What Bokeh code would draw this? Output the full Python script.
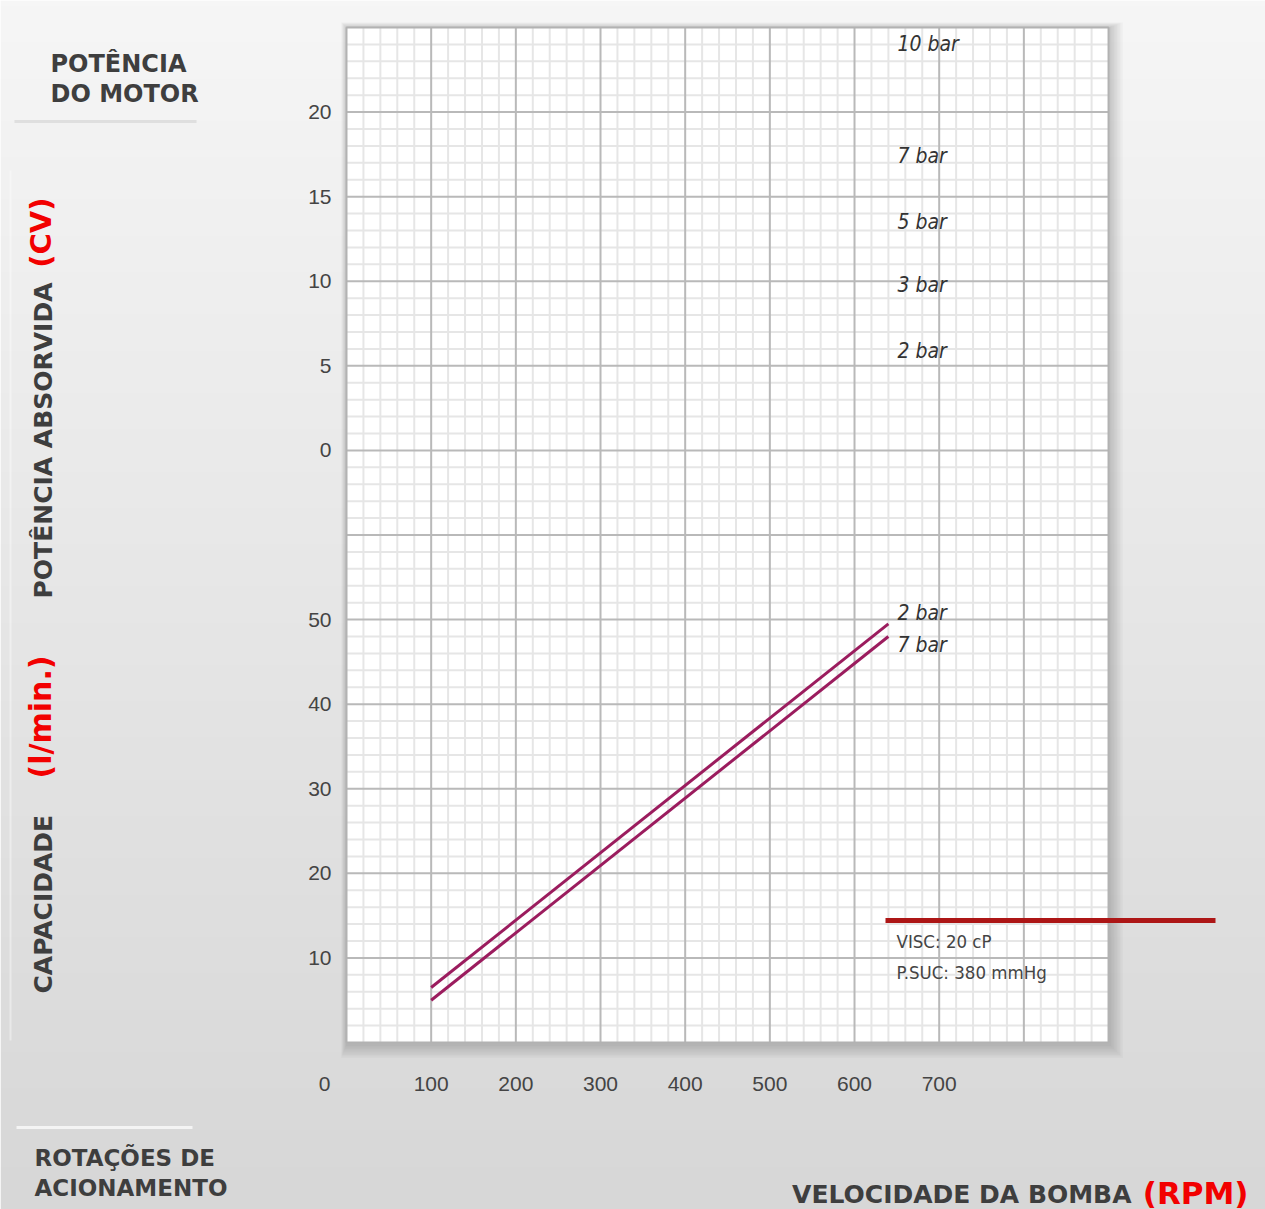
import numpy as np
from bokeh.plotting import figure
from bokeh.models import Range1d
from bokeh.core.properties import value
from bokeh.embed import file_html
from bokeh.resources import INLINE

# ---------------- data ----------------
rpm_ticks = [100, 200, 300, 400, 500, 600, 700]
capacity_ticks = [10, 20, 30, 40, 50]
power_ticks = [0, 5, 10, 15, 20]
pump_speed = [100, 640]
capacity_2bar = [6.5, 49.5]
capacity_7bar = [5.0, 48.0]
power_labels = ["10 bar", "7 bar", "5 bar", "3 bar", "2 bar"]
power_label_cv = [24.0, 17.4, 13.5, 9.8, 5.9]
capacity_labels = ["2 bar", "7 bar"]
notes = ["VISC: 20 cP", "P.SUC: 380 mmHg"]

# ---------------- layout helpers ----------------
W, H = 1265, 1209
PX_PER_RPM = 0.8467
PX_PER_CAP = 8.458
FRAME_L, FRAME_B = 346, 1042


def xd(px):
    return (px - FRAME_L) / PX_PER_RPM


def yd(py):
    return (FRAME_B - py) / PX_PER_CAP


def pw(v):
    # power (CV) drawn on the upper part of the shared grid
    return 70 + 2 * v


X_MAX, Y_MAX = 900, 120

p = figure(width=W, height=H, output_backend="svg", toolbar_location=None,
           x_range=Range1d(xd(0), xd(W)), y_range=Range1d(yd(H), yd(0)),
           x_axis_type=None, y_axis_type=None, min_border=0)
p.grid.visible = False
p.outline_line_color = None

# background gradient
n = 200
t = np.linspace(0, 1, n)
top_c = np.array([246, 246, 246])
bot_c = np.array([215, 215, 215])
img = np.empty((n, 1), dtype=np.uint32)
view = img.view(dtype=np.uint8).reshape((n, 1, 4))
for i in range(n):
    c = bot_c + (top_c - bot_c) * t[i]
    view[i, 0, 0:3] = c.astype(np.uint8)
    view[i, 0, 3] = 255
x0r, x1r = xd(0), xd(W)
y0r, y1r = yd(H), yd(0)
p.image_rgba(image=[img], x=x0r, y=y0r, dw=x1r - x0r, dh=y1r - y0r)

# decorative separators on the left
p.segment(x0=[xd(14)], y0=[yd(121)], x1=[xd(196)], y1=[yd(121)],
          line_color="#d2d2d2", line_width=3, line_alpha=0.6)
p.segment(x0=[xd(16)], y0=[yd(1127)], x1=[xd(192)], y1=[yd(1127)],
          line_color="#ffffff", line_width=3, line_alpha=0.7)
p.segment(x0=[xd(10)], y0=[yd(170)], x1=[xd(10)], y1=[yd(1040)],
          line_color="#ffffff", line_width=2, line_alpha=0.4)

# frame shadow
for g in range(1, 10):
    p.quad(left=[-g * 0.6 / PX_PER_RPM], right=[X_MAX + (g * 1.5 + 1) / PX_PER_RPM],
           bottom=[-(g * 1.5 + 2) / PX_PER_CAP], top=[Y_MAX + g * 0.6 / PX_PER_CAP],
           fill_color="black", fill_alpha=0.018, line_color=None)

# plot paper
p.quad(left=[0], right=[X_MAX], bottom=[0], top=[Y_MAX],
       fill_color="white", line_color=None)

minor_x = [v for v in range(20, X_MAX, 20) if v % 100]
minor_y = [v for v in range(2, Y_MAX, 2) if v % 10]
major_x = list(range(100, X_MAX, 100))
major_y = list(range(10, Y_MAX, 10))
p.segment(x0=minor_x, y0=[0] * len(minor_x), x1=minor_x, y1=[Y_MAX] * len(minor_x),
          line_color="#e6e6e6", line_width=2)
p.segment(x0=[0] * len(minor_y), y0=minor_y, x1=[X_MAX] * len(minor_y), y1=minor_y,
          line_color="#e6e6e6", line_width=2)
p.segment(x0=major_x, y0=[0] * len(major_x), x1=major_x, y1=[Y_MAX] * len(major_x),
          line_color="#b9b9b9", line_width=2)
p.segment(x0=[0] * len(major_y), y0=major_y, x1=[X_MAX] * len(major_y), y1=major_y,
          line_color="#b9b9b9", line_width=2)
p.quad(left=[0], right=[X_MAX], bottom=[0], top=[Y_MAX],
       fill_color=None, line_color="#b2b2b2", line_width=2)

# capacity curves
curve_color = "#9b1c5e"
p.line(pump_speed, capacity_2bar, line_color=curve_color, line_width=3)
p.line(pump_speed, capacity_7bar, line_color=curve_color, line_width=3)

tick_font = value("Liberation Sans")
tick_color = "#444444"
# x tick labels
p.text(x=rpm_ticks, y=[0] * len(rpm_ticks), text=[str(v) for v in rpm_ticks],
       y_offset=41, text_align="center", text_baseline="middle",
       text_font=tick_font, text_font_size=value("21px"), text_color=tick_color)
p.text(x=[0], y=[0], text=["0"], x_offset=-22, y_offset=41,
       text_align="center", text_baseline="middle",
       text_font=tick_font, text_font_size=value("21px"), text_color=tick_color)
# y tick labels (capacity)
p.text(x=[0] * len(capacity_ticks), y=capacity_ticks, text=[str(v) for v in capacity_ticks],
       x_offset=-15, text_align="right", text_baseline="middle",
       text_font=tick_font, text_font_size=value("21px"), text_color=tick_color)
# y tick labels (power)
p.text(x=[0] * len(power_ticks), y=[pw(v) for v in power_ticks],
       text=[str(v) for v in power_ticks],
       x_offset=-15, text_align="right", text_baseline="middle",
       text_font=tick_font, text_font_size=value("21px"), text_color=tick_color)

narrow = value("DejaVu Sans Condensed, Liberation Sans")
# power labels
p.text(x=[pump_speed[-1]] * len(power_labels), y=[pw(v) for v in power_label_cv],
       text=power_labels, x_offset=9, text_align="left", text_baseline="middle",
       text_font=narrow, text_font_style="italic", text_font_size=value("21px"),
       text_color="#333333")
# capacity curve labels
p.text(x=[pump_speed[-1]] * 2, y=[capacity_2bar[-1], capacity_7bar[-1]],
       text=capacity_labels, x_offset=9, y_offset=[-11, 8],
       text_align="left", text_baseline="middle",
       text_font=narrow, text_font_style="italic", text_font_size=value("21px"),
       text_color="#333333")

# note box
p.segment(x0=[xd(885)], y0=[yd(920)], x1=[xd(1215)], y1=[yd(920)],
          line_color="#ad1616", line_width=5)
p.text(x=[xd(896)] * 2, y=[yd(941), yd(972)], text=notes,
       text_align="left", text_baseline="middle",
       text_font=narrow, text_font_size=value("18.5px"), text_color="#444444")

# titles
title_font = value("DejaVu Sans")
dark = "#3e3e3e"
red = "#f20000"
p.text(x=[xd(50)] * 2, y=[yd(63), yd(93)], text=["POTÊNCIA", "DO MOTOR"],
       text_align="left", text_baseline="middle", text_font=title_font,
       text_font_style="bold", text_font_size=value("24px"), text_color=dark)
p.text(x=[xd(34)] * 2, y=[yd(1157), yd(1187)], text=["ROTAÇÕES DE", "ACIONAMENTO"],
       text_align="left", text_baseline="middle", text_font=title_font,
       text_font_style="bold", text_font_size=value("23px"), text_color=dark)
p.text(x=[xd(1131)], y=[yd(1194)], text=["VELOCIDADE DA BOMBA"],
       text_align="right", text_baseline="middle", text_font=title_font,
       text_font_style="bold", text_font_size=value("25px"), text_color=dark)
p.text(x=[xd(1248)], y=[yd(1192)], text=["(RPM)"],
       text_align="right", text_baseline="middle", text_font=title_font,
       text_font_style="bold", text_font_size=value("31px"), text_color=red)

# vertical titles
p.text(x=[xd(43)], y=[yd(598)], text=["POTÊNCIA ABSORVIDA"], angle=np.pi / 2,
       text_align="left", text_baseline="middle", text_font=title_font,
       text_font_style="bold", text_font_size=value("25px"), text_color=dark)
p.text(x=[xd(40)], y=[yd(197)], text=["(CV)"], angle=np.pi / 2,
       text_align="right", text_baseline="middle", text_font=title_font,
       text_font_style="bold", text_font_size=value("29px"), text_color=red)
p.text(x=[xd(43)], y=[yd(993)], text=["CAPACIDADE"], angle=np.pi / 2,
       text_align="left", text_baseline="middle", text_font=title_font,
       text_font_style="bold", text_font_size=value("25px"), text_color=dark)
p.text(x=[xd(40)], y=[yd(655)], text=["(l/min.)"], angle=np.pi / 2,
       text_align="right", text_baseline="middle", text_font=title_font,
       text_font_style="bold", text_font_size=value("30px"), text_color=red)

open("out.html", "w").write(file_html(p, INLINE))
